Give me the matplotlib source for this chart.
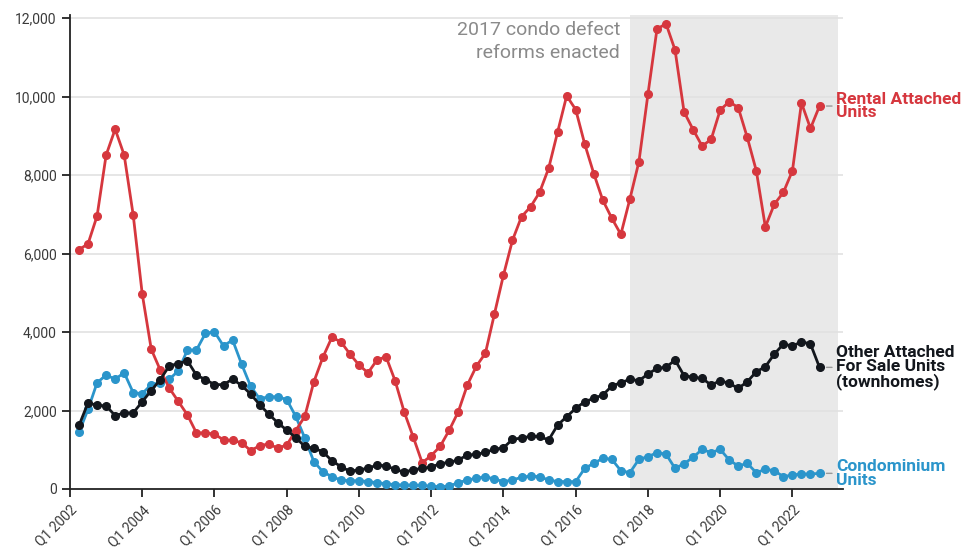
import numpy as np
import pandas as pd
import matplotlib
matplotlib.use("Agg")
import matplotlib.pyplot as plt

plt.rcParams["font.family"] = ["Roboto", "DejaVu Sans"]

# quarterly permits, 2002 Q1 .. 2022 Q3
quarters = pd.period_range("2002Q1", "2022Q3", freq="Q")

rental = [6100, 6250, 6960, 8510, 9170, 8510, 6980, 4970, 3560, 3030,
          2570, 2230, 1890, 1430, 1430, 1400, 1250, 1240, 1180, 980,
          1100, 1150, 1040, 1120, 1490, 1850, 2730, 3355, 3865, 3750,
          3440, 3160, 2960, 3290, 3370, 2760, 1970, 1330, 670, 850,
          1090, 1500, 1970, 2650, 3130, 3460, 4460, 5450, 6340, 6940,
          7190, 7560, 8170, 9100, 10020, 9670, 8790, 8040, 7360, 6900,
          6490, 7390, 8340, 10060, 11720, 11860, 11190, 9610, 9160, 8740,
          8910, 9660, 9870, 9720, 8960, 8110, 6680, 7260, 7560, 8110,
          9840, 9190, 9760]

townhomes = [1620, 2200, 2130, 2120, 1870, 1940, 1940, 2225, 2510, 2790,
             3140, 3195, 3270, 2900, 2790, 2660, 2660, 2800, 2640, 2420,
             2150, 1910, 1690, 1500, 1310, 1085, 1040, 950, 720, 570,
             450, 490, 526, 611, 590, 500, 430, 490, 526, 560,
             645, 680, 739, 866, 880, 935, 1011, 1050, 1266, 1300,
             1340, 1340, 1248, 1630, 1842, 2055, 2225, 2310, 2395, 2624,
             2709, 2795, 2760, 2930, 3075, 3100, 3287, 2890, 2846, 2820,
             2650, 2760, 2692, 2566, 2734, 2989, 3116, 3440, 3695, 3643,
             3753, 3695, 3100]

condo = [1450, 2030, 2709, 2904, 2800, 2963, 2454, 2430, 2660, 2709,
         2795, 3015, 3541, 3541, 3967, 4008, 3643, 3800, 3185, 2620,
         2300, 2350, 2350, 2280, 1850, 1300, 700, 440, 314, 229,
         210, 210, 190, 160, 135, 110, 100, 100, 90, 70,
         60, 75, 160, 229, 272, 314, 250, 190, 229, 298,
         330, 314, 229, 190, 187, 187, 526, 654, 781, 756,
         467, 416, 756, 823, 925, 891, 526, 645, 807, 1011,
         925, 1011, 739, 586, 654, 416, 501, 467, 314, 357,
         382, 382, 399]

tick_years = list(range(2002, 2023, 2))
tick_labels = [f"Q1 {y}" for y in tick_years]
y_ticks = [0, 2000, 4000, 6000, 8000, 10000, 12000]

reform_start, reform_end = 2017.5, 2023.25

RED = "#d6373e"
BLUE = "#2b95cb"
BLACK = "#13171d"

# plot at the end of each quarter
x = np.array([q.year + q.quarter / 4 for q in quarters])

fig = plt.figure(figsize=(9.66, 5.52), dpi=100)
ax = fig.add_axes([70 / 966, 63 / 552, 773 / 966, 474 / 552])

ax.axvspan(reform_start, reform_end, color="#e9e9e9", lw=0, zorder=0)
for yv in y_ticks[1:]:
    ax.axhline(yv, color="#e1e1e1", lw=1.2, zorder=1)

series = [
    (condo, BLUE, "Condominium\nUnits"),
    (rental, RED, "Rental Attached\nUnits"),
    (townhomes, BLACK, "Other Attached\nFor Sale Units\n(townhomes)"),
]
for vals, col, label in series:
    ax.plot(x, vals, color=col, lw=2.0, marker="o", ms=5.5,
            mec=col, mfc=col, zorder=3, solid_joinstyle="round")
    ax.annotate(label, xy=(x[-1], vals[-1]), xytext=(12, 0),
                textcoords="offset points", va="center", ha="left",
                color=col, fontsize=12.5, fontweight="bold", linespacing=0.9,
                arrowprops=dict(arrowstyle="-", color="#999999", lw=1,
                                shrinkA=1, shrinkB=5, relpos=(0, 0.5)))

ax.annotate("2017 condo defect\nreforms enacted", xy=(reform_start, 12000),
            xytext=(-7, -2), textcoords="offset points", ha="right", va="top",
            color="#8a8a8a", fontsize=14, linespacing=1.35)

ax.set_xlim(2002, 2023.4)
ax.set_ylim(0, 12080)
ax.set_xticks(tick_years)
ax.set_xticklabels(tick_labels, rotation=45, ha="right",
                   rotation_mode="anchor")
ax.set_yticks(y_ticks)
ax.set_yticklabels([f"{v:,}" for v in y_ticks])

for side in ("top", "right"):
    ax.spines[side].set_visible(False)
for side in ("left", "bottom"):
    ax.spines[side].set_color("#222222")
    ax.spines[side].set_linewidth(1.3)
ax.tick_params(axis="both", colors="#222222", length=6, width=1.3,
               labelsize=10, labelcolor="#3a3a3a")
ax.tick_params(axis="x", pad=4)

fig.savefig("out.png", dpi=100)
